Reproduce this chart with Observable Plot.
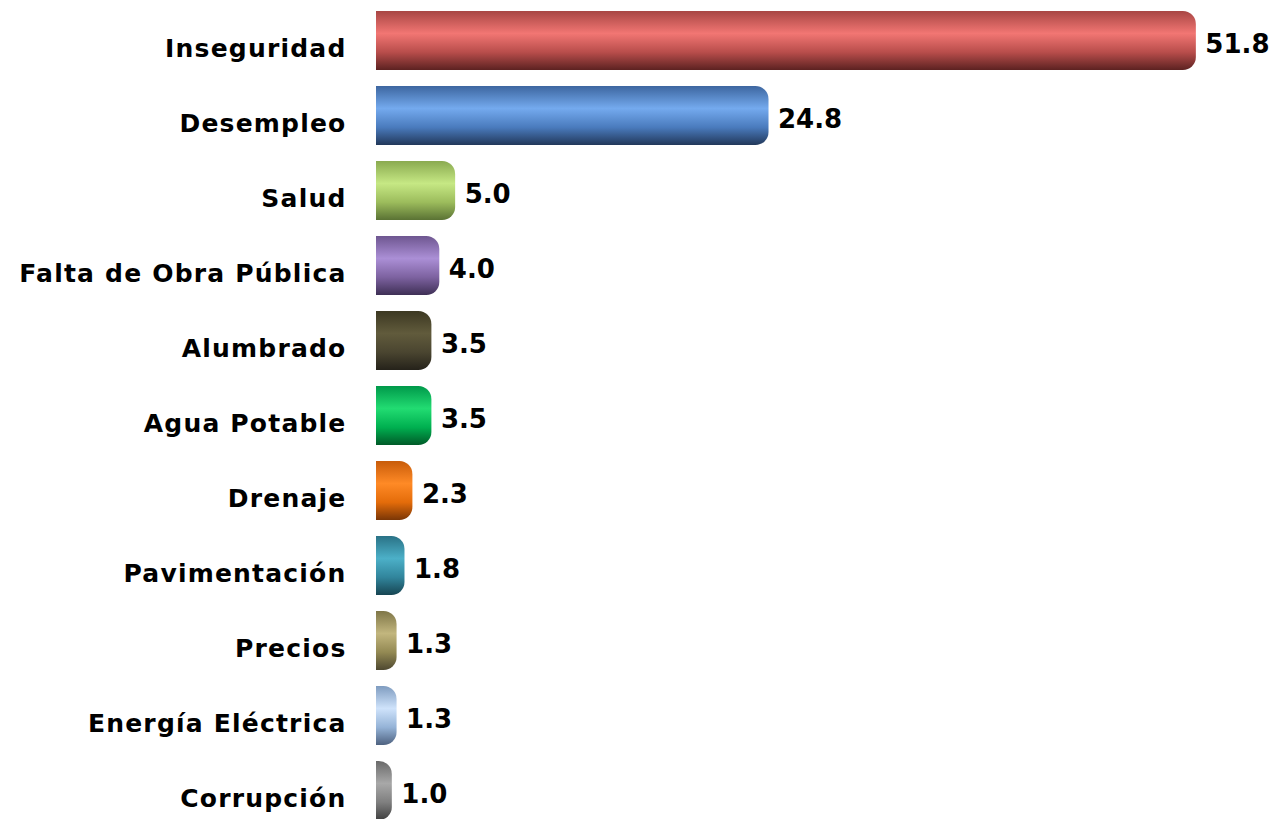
<!DOCTYPE html>
<html><head><meta charset="utf-8">
<script src="https://cdn.jsdelivr.net/npm/d3@7"></script>
<script src="https://cdn.jsdelivr.net/npm/@observablehq/plot@0.6"></script>
<style>
html,body{margin:0;padding:0;background:#fff;overflow:hidden;}
#chart svg{display:block;}
#chart g[aria-label="y-axis tick label"] text{letter-spacing:1.2px;}
</style></head><body><svg width="0" height="0" style="position:absolute" id="defs"></svg><div id="chart"></div>
<script>
const categories = ["Inseguridad","Desempleo","Salud","Falta de Obra Pública","Alumbrado","Agua Potable","Drenaje","Pavimentación","Precios","Energía Eléctrica","Corrupción"];
const values = [51.8, 24.8, 5.0, 4.0, 3.5, 3.5, 2.3, 1.8, 1.3, 1.3, 1.0];
// gradient palette per bar: top, highlight, body, bottom
const palette = [
  ["#a84644","#f27673","#b84d4b","#5c2221"],
  ["#3d66a0","#74aaee","#4a7bbd","#22385a"],
  ["#8aaa50","#c6e884","#9cbc5c","#5a7234"],
  ["#6e5690","#ab8fd6","#7d62a0","#3e2f55"],
  ["#3c3822","#615b3c","#4a4530","#25221a"],
  ["#00994a","#22dc72","#00b050","#005a28"],
  ["#c85c0a","#ff8a26","#e46c0a","#7a3606"],
  ["#2a7286","#4cb0c8","#31859c","#174552"],
  ["#7f7648","#c2b67e","#938953","#4e4830"],
  ["#7f9cc0","#cfe3fb","#95b3d7","#4e6280"],
  ["#6a6a6a","#a8a8a8","#7f7f7f","#404040"]
];
const data = categories.map((c,i)=>({category:c, value:values[i], idx:i}));

const defsSvg = d3.select("#defs").append("defs");
palette.forEach((p,i)=>{
  const g = defsSvg.append("linearGradient").attr("id","g"+i).attr("x1",0).attr("y1",0).attr("x2",0).attr("y2",1);
  [[0,p[0]],[0.38,p[1]],[0.7,p[2]],[1,p[3]]].forEach(([o,c])=>g.append("stop").attr("offset",o).attr("stop-color",c));
});

const chart = Plot.plot({
  width:1276, height:827, marginLeft:376, marginRight:20, marginTop:3.5, marginBottom:0,
  x:{domain:[0,55.6], axis:null},
  y:{domain:categories, paddingInner:0.22, paddingOuter:0.1, label:null, axis:null},
  color:{type:"identity"},
  style:{fontFamily:"DejaVu Sans", background:"white", color:"black"},
  marks:[
    Plot.barX(data,{y:"category", x1:d=>-1, x2:"value", fill:d=>`url(#g${d.idx})`, rx:13, clip:true}),
    Plot.text(data,{y:"category", x:"value", text:d=>d.value.toFixed(1), textAnchor:"start", dx:9, dy:4, fontSize:26, fontWeight:"bold", fill:"black"}),
    Plot.axisY({tickSize:0, tickPadding:30, dy:8, fontSize:25, fontWeight:"bold", label:null, fill:"black"})
  ]
});
document.getElementById("chart").appendChild(chart);
</script></body></html>
